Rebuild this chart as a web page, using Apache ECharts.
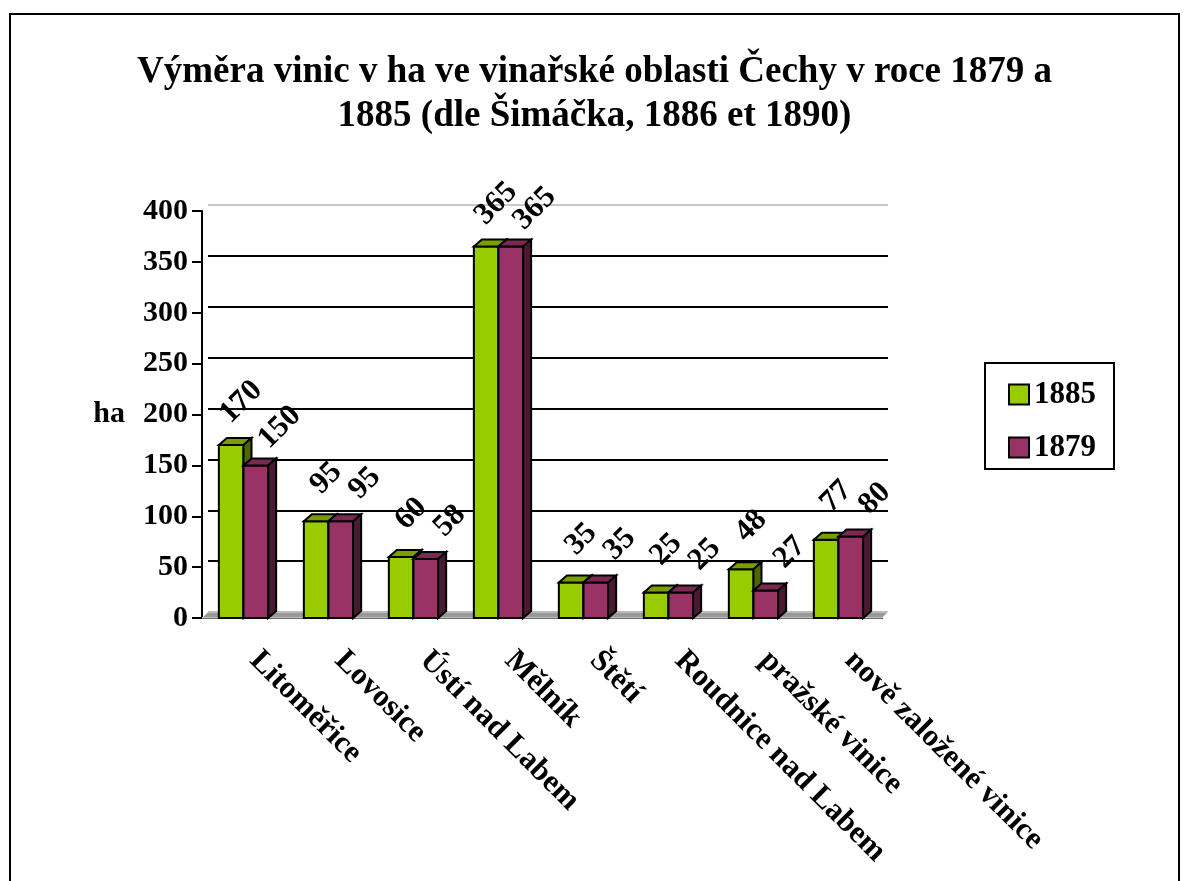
<!DOCTYPE html>
<html>
<head>
<meta charset="utf-8">
<script src="https://cdn.jsdelivr.net/npm/echarts@6/dist/echarts.min.js"></script>
<style>
body{margin:0;background:#fff;}
#frame{position:absolute;left:9px;top:13px;width:1167px;height:900px;border:2px solid #000;}
#main{position:absolute;left:0;top:0;width:1189px;height:881px;}
</style>
</head>
<body>
<div id="frame"></div>
<div id="main"></div>
<script>
// data
let categories = ["Litoměřice","Lovosice","Ústí nad Labem","Mělník","Štětí","Roudnice nad Labem","pražské vinice","nově založené vinice"];
let values1885 = [170,95,60,365,35,25,48,77];
let values1879 = [150,95,58,365,35,25,27,80];
let seriesNames = ['1885','1879'];

let font = '"Liberation Serif","Times New Roman",serif';
let colors = [
    {front:'#99cc00', top:'#7a9e00', side:'#4d6600', lx:10, ly:43},
    {front:'#993366', top:'#7a2952', side:'#4a1a33', lx:24, ly:38}
];

function toData(arr){
    let out = [];
    for(let i=0;i<arr.length;i++){
        out.push([i, arr[i]]);
    }
    return out;
}

function barRender(s){
    return function(params, api){
        let cat = api.value(0);
        let val = api.value(1);
        let top = api.coord([cat, val]);
        let base = api.coord([cat, 0]);
        let bw = api.size([1,0])[0];
        let w = bw*0.29;
        let x0 = s==0 ? top[0]-w-1 : top[0]-1;
        let d = 8, e = 7;
        let c = colors[s];
        return {
            type:'group',
            children:[
                {type:'rect', shape:{x:x0, y:top[1], width:w, height:base[1]-top[1]},
                    style:{fill:c.front, stroke:'#000', lineWidth:2}},
                {type:'polygon', shape:{points:[[x0,top[1]],[x0+w,top[1]],[x0+w+d,top[1]-e],[x0+d,top[1]-e]]},
                    style:{fill:c.top, stroke:'#000', lineWidth:2}},
                {type:'polygon', shape:{points:[[x0+w,top[1]],[x0+w+d,top[1]-e],[x0+w+d,base[1]-e],[x0+w,base[1]]]},
                    style:{fill:c.side, stroke:'#000', lineWidth:2}},
                {type:'text', x:x0+w/2+c.lx, y:top[1]-c.ly, rotation:Math.PI/4,
                    style:{text:String(val), font:'bold 31px '+font, fill:'#000', align:'center', verticalAlign:'middle'}}
            ]
        };
    };
}

function floorRender(params, api){
    let cs = params.coordSys;
    let y0 = cs.y+cs.height;
    return {
        type:'polygon',
        shape:{points:[[cs.x,y0],[cs.x+cs.width,y0],[cs.x+cs.width+6,y0-6],[cs.x+6,y0-6]]},
        style:{fill:'#999', stroke:'#ddd', lineWidth:1}
    };
}

let chart = echarts.init(document.getElementById('main'));
chart.setOption({
    animation:false,
    title:{
        text:'Výměra vinic v ha ve vinařské oblasti Čechy v roce 1879 a\n1885 (dle Šimáčka, 1886 et 1890)',
        left:'center',
        top:45,
        textStyle:{fontFamily:font, fontWeight:'bold', fontSize:37, lineHeight:44, color:'#000'}
    },
    legend:{
        orient:'vertical',
        left:985,
        top:363,
        data:seriesNames,
        icon:'rect',
        itemWidth:20,
        itemHeight:20,
        itemGap:22,
        padding:[16,18,6,23],
        borderColor:'#000',
        borderWidth:2,
        itemStyle:{borderColor:'#000', borderWidth:2},
        textStyle:{fontFamily:font, fontWeight:'bold', fontSize:31, color:'#000'}
    },
    grid:[
        {left:202, right:307, top:211, bottom:263},
        {left:208, right:301, top:205, bottom:269}
    ],
    xAxis:[
        {
            type:'category',
            gridIndex:0,
            data:categories,
            axisLine:{lineStyle:{color:'#000', width:2}},
            axisTick:{length:12, lineStyle:{color:'#000', width:2}},
            axisLabel:{rotate:-45, margin:28, padding:[0,0,0,14], interval:0, fontFamily:font, fontWeight:'bold', fontSize:31, color:'#000'}
        },
        {type:'category', gridIndex:1, data:categories, show:false}
    ],
    yAxis:[
        {
            type:'value',
            gridIndex:0,
            min:0, max:400, interval:50,
            name:'ha',
            nameLocation:'middle',
            nameRotate:0,
            nameGap:77,
            nameTextStyle:{fontFamily:font, fontWeight:'bold', fontSize:30, color:'#000'},
            axisLine:{show:true, lineStyle:{color:'#000', width:2}},
            axisTick:{show:true, length:10, lineStyle:{color:'#000', width:2}},
            axisLabel:{margin:14, fontFamily:font, fontWeight:'bold', fontSize:30, color:'#000'},
            splitLine:{show:false}
        },
        {
            type:'value',
            gridIndex:1,
            min:0, max:400, interval:50,
            axisLine:{show:false},
            axisTick:{show:false},
            axisLabel:{show:false},
            splitLine:{show:true, lineStyle:{width:2, color:['#999','#000','#000','#000','#000','#000','#000','#000','#c8c8c8']}}
        }
    ],
    series:[
        {
            name:'floor',
            type:'custom',
            renderItem:floorRender,
            data:[[0,0]],
            itemStyle:{color:'#999'},
            z:1,
            silent:true
        },
        {
            name:seriesNames[0],
            type:'custom',
            renderItem:barRender(0),
            data:toData(values1885),
            itemStyle:{color:'#99cc00'},
            z:3
        },
        {
            name:seriesNames[1],
            type:'custom',
            renderItem:barRender(1),
            data:toData(values1879),
            itemStyle:{color:'#993366'},
            z:4
        }
    ]
});
</script>
</body>
</html>
